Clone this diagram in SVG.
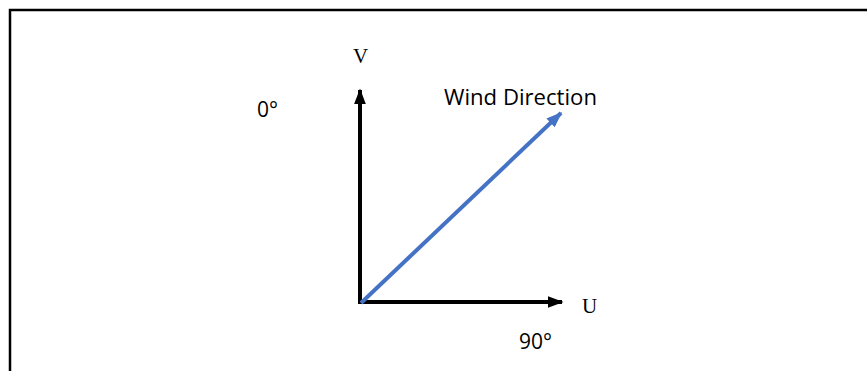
<svg xmlns="http://www.w3.org/2000/svg" width="867" height="371" viewBox="0 0 867 371">
<defs>
<style>
.ax{stroke:#000;stroke-width:4;fill:none}
.wd{stroke:#4472C4;stroke-width:4;fill:none}
.serif{font-family:"Liberation Serif","Times New Roman",serif;font-size:21px;fill:#000}
.sans{font-family:"Open Sans","Noto Sans",sans-serif;font-size:21px;fill:#000}
</style>
<marker id="ah" markerWidth="4" markerHeight="3" refX="3.6" refY="1.5" orient="auto" markerUnits="strokeWidth">
<path d="M0,0 L4,1.5 L0,3 Z" fill="#000"/>
</marker>
<marker id="ahb" markerWidth="4" markerHeight="3" refX="3.6" refY="1.5" orient="auto" markerUnits="strokeWidth">
<path d="M0,0 L4,1.5 L0,3 Z" fill="#4472C4"/>
</marker>
</defs>
<rect x="0" y="0" width="867" height="371" fill="#fff"/>
<g id="frame">
<path d="M10,371 L10,10 L867,10" stroke="#000" stroke-width="2.5" fill="none"/>
</g>
<g id="connectors">
<line class="ax" x1="360" y1="304" x2="360" y2="90" marker-end="url(#ah)"/>
<line class="ax" x1="358" y1="302" x2="562" y2="302" marker-end="url(#ah)"/>
<line class="wd" x1="361" y1="303" x2="561" y2="113" marker-end="url(#ahb)"/>
</g>
<g id="label-v"><text class="serif" x="353" y="63">V</text></g>
<g id="label-u"><text class="serif" x="582" y="313">U</text></g>
<g id="label-0"><text class="sans" x="257" y="117">0°</text></g>
<g id="label-90"><text class="sans" x="519" y="349">90°</text></g>
<g id="label-wind"><text class="sans" x="444" y="105" textLength="153" lengthAdjust="spacingAndGlyphs">Wind Direction</text></g>
</svg>
